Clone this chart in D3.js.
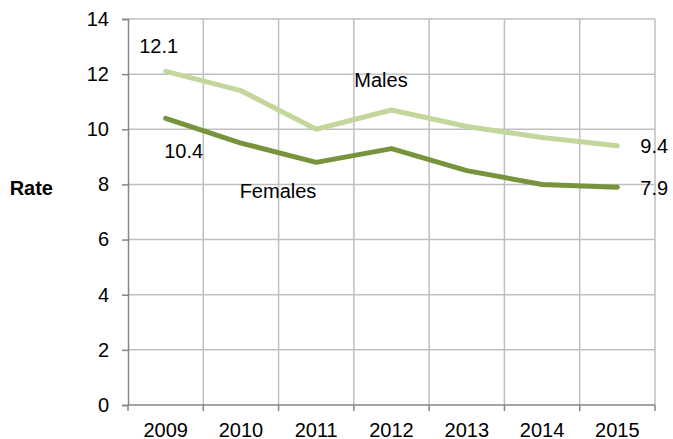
<!DOCTYPE html>
<html>
<head>
<meta charset="utf-8">
<script src="https://cdn.jsdelivr.net/npm/d3@7"></script>
<style>
  html, body { margin: 0; padding: 0; background: #fff; }
  svg { display: block; font-family: "Liberation Sans", Arial, sans-serif; }
</style>
</head>
<body>
<svg id="chart" width="673" height="439"></svg>
<script>
// Rates by year
const years = ["2009", "2010", "2011", "2012", "2013", "2014", "2015"];
const males = [12.1, 11.4, 10.0, 10.7, 10.1, 9.7, 9.4];
const females = [10.4, 9.5, 8.8, 9.3, 8.5, 8.0, 7.9];
const yTicks = [0, 2, 4, 6, 8, 10, 12, 14];

const svg = d3.select("#chart");
const plotLeft = 128, plotRight = 655, plotTop = 19, plotBottom = 405;
const fontSize = 20;

const x = d3.scaleBand().domain(years).range([plotLeft, plotRight]);
const y = d3.scaleLinear().domain([0, 14]).range([plotBottom, plotTop]);

const gridColor = "#bfbfbf";
const axisColor = "#868686";

// Horizontal grid
svg.append("g").selectAll("line").data(yTicks.filter(d => d > 0)).join("line")
  .attr("x1", plotLeft).attr("x2", plotRight)
  .attr("y1", d => y(d)).attr("y2", d => y(d))
  .attr("stroke", gridColor).attr("stroke-width", 1.5);

// Vertical grid at category boundaries
const bounds = years.map(d => x(d) + x.bandwidth());
svg.append("g").selectAll("line").data(bounds).join("line")
  .attr("x1", d => d).attr("x2", d => d)
  .attr("y1", plotTop).attr("y2", plotBottom)
  .attr("stroke", gridColor).attr("stroke-width", 1.5);

// Y axis
const yAxis = svg.append("g").attr("transform", `translate(${plotLeft},0)`)
  .call(d3.axisLeft(y).tickValues(yTicks).tickSize(6).tickPadding(13).tickFormat(d3.format("d")));
yAxis.select(".domain").attr("stroke", axisColor).attr("stroke-width", 1.5);
yAxis.selectAll(".tick line").attr("stroke", axisColor).attr("stroke-width", 1.5);
yAxis.selectAll("text").attr("font-size", fontSize).attr("fill", "#000")
  .attr("font-family", "Liberation Sans, Arial, sans-serif");

// X axis: ticks between categories
svg.append("line").attr("x1", plotLeft).attr("x2", plotRight)
  .attr("y1", plotBottom).attr("y2", plotBottom)
  .attr("stroke", axisColor).attr("stroke-width", 1.5);
svg.append("g").selectAll("line").data([plotLeft, ...bounds]).join("line")
  .attr("x1", d => d).attr("x2", d => d)
  .attr("y1", plotBottom).attr("y2", plotBottom + 6)
  .attr("stroke", axisColor).attr("stroke-width", 1.5);
svg.append("g").selectAll("text").data(years).join("text")
  .attr("x", d => x(d) + x.bandwidth() / 2)
  .attr("y", 436.5)
  .attr("text-anchor", "middle").attr("font-size", fontSize).attr("fill", "#000")
  .text(d => d);

// Axis title
svg.append("text").attr("x", 53).attr("y", 195)
  .attr("text-anchor", "end").attr("font-size", fontSize).attr("font-weight", "bold")
  .text("Rate");

// Lines
const line = d3.line()
  .x((d, i) => x(years[i]) + x.bandwidth() / 2)
  .y(d => y(d));

svg.append("path").datum(males).attr("d", line)
  .attr("fill", "none").attr("stroke", "#c3d69b").attr("stroke-width", 5)
  .attr("stroke-linejoin", "round").attr("stroke-linecap", "round");
svg.append("path").datum(females).attr("d", line)
  .attr("fill", "none").attr("stroke", "#77933c").attr("stroke-width", 5)
  .attr("stroke-linejoin", "round").attr("stroke-linecap", "round");

// Labels
const cx = i => x(years[i]) + x.bandwidth() / 2;
const labels = [
  { text: "12.1", x: cx(0) - 7, y: y(males[0]) - 18, anchor: "middle" },
  { text: "10.4", x: cx(0) + 18, y: y(females[0]) + 40, anchor: "middle" },
  { text: "Males", x: 381, y: 87, anchor: "middle" },
  { text: "Females", x: 278, y: 198, anchor: "middle" },
  { text: String(males[6]), x: cx(6) + 23, y: y(males[6]) + 7.5, anchor: "start" },
  { text: String(females[6]), x: cx(6) + 23, y: y(females[6]) + 7.8, anchor: "start" }
];
svg.append("g").selectAll("text").data(labels).join("text")
  .attr("x", d => d.x).attr("y", d => d.y)
  .attr("text-anchor", d => d.anchor)
  .attr("font-size", fontSize).attr("fill", "#000")
  .text(d => d.text);
</script>
</body>
</html>
